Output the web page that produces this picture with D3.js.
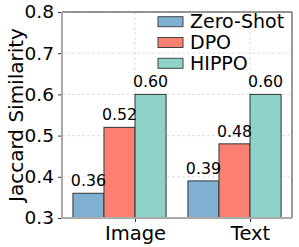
<!DOCTYPE html>
<html>
<head>
	<style type="text/css">
		body { margin: 0; background: #fff; }
		text { font-family: "DejaVu Sans", sans-serif; fill: #000; }
		.grid line { stroke: #d9d9d9; stroke-width: 0.8; stroke-dasharray: 3,2; }
	</style>
</head>
<body>
	<div id="chart"></div>
	<script src="https://d3js.org/d3.v7.min.js"></script>
	<script type="text/javascript">
		var categories = ["Image", "Text"];
		var series = ["Zero-Shot", "DPO", "HIPPO"];
		var colors = ["#80b1d3", "#fb8072", "#8dd3c7"];
		var values = {
			"Zero-Shot": [0.36, 0.39],
			"DPO": [0.52, 0.48],
			"HIPPO": [0.60, 0.60]
		};
		var yTicks = [0.3, 0.4, 0.5, 0.6, 0.7, 0.8];

		var width = 299, height = 247;
		var plotLeft = 62, plotRight = 292, plotTop = 12, plotBottom = 218;

		var svg = d3.select("#chart").append("svg")
			.attr("width", width)
			.attr("height", height);

		var x0 = d3.scalePoint().domain(categories).range([plotLeft, plotRight]).padding(0.5);
		var barW = x0.step() * 0.27;
		var x1 = d3.scaleBand().domain(series).range([-1.5 * barW, 1.5 * barW]);
		var y = d3.scaleLinear().domain([0.3, 0.8]).range([plotBottom, plotTop]);

		// tick positions sit at the right edge of the middle bar
		var tickX = function(c) { return x0(c) + barW / 2; };

		// grid
		var grid = svg.append("g").attr("class", "grid");
		grid.selectAll(".h").data(yTicks).enter().append("line")
			.attr("x1", plotLeft).attr("x2", plotRight)
			.attr("y1", function(d) { return y(d); })
			.attr("y2", function(d) { return y(d); });
		grid.selectAll(".v").data(categories).enter().append("line")
			.attr("x1", tickX).attr("x2", tickX)
			.attr("y1", plotTop).attr("y2", plotBottom);

		// bars
		var rows = [];
		series.forEach(function(s) {
			categories.forEach(function(c, i) {
				rows.push({ s: s, c: c, v: values[s][i] });
			});
		});

		svg.selectAll(".bar").data(rows).enter().append("rect")
			.attr("class", "bar")
			.attr("x", function(d) { return x0(d.c) + x1(d.s); })
			.attr("y", function(d) { return y(d.v); })
			.attr("width", x1.bandwidth())
			.attr("height", function(d) { return plotBottom - y(d.v); })
			.attr("fill", function(d) { return colors[series.indexOf(d.s)]; })
			.attr("stroke", "#333")
			.attr("stroke-width", 1);

		svg.selectAll(".val").data(rows).enter().append("text")
			.attr("x", function(d) { return x0(d.c) + x1(d.s) + x1.bandwidth() / 2; })
			.attr("y", function(d) { return y(d.v) - 7; })
			.attr("text-anchor", "middle")
			.attr("font-size", "15.8px")
			.text(function(d) { return d.v.toFixed(2); });

		// spines
		svg.append("line").attr("x1", plotLeft).attr("x2", plotRight).attr("y1", plotTop).attr("y2", plotTop)
			.attr("stroke", "#333").attr("stroke-width", 1);
		svg.append("line").attr("x1", plotRight).attr("x2", plotRight).attr("y1", plotTop).attr("y2", plotBottom)
			.attr("stroke", "#333").attr("stroke-width", 1);
		svg.append("line").attr("x1", plotLeft).attr("x2", plotLeft).attr("y1", plotTop).attr("y2", plotBottom + 1)
			.attr("stroke", "#aaa").attr("stroke-width", 2);
		svg.append("line").attr("x1", plotLeft).attr("x2", plotRight).attr("y1", plotBottom).attr("y2", plotBottom)
			.attr("stroke", "#aaa").attr("stroke-width", 2);

		// y axis
		var yAxis = svg.append("g")
			.attr("transform", "translate(" + (plotLeft - 1) + ",0)")
			.call(d3.axisLeft(y).tickValues(yTicks).tickSize(3).tickPadding(4).tickFormat(d3.format(".1f")));
		yAxis.select(".domain").remove();
		yAxis.selectAll("line").attr("stroke", "#333");
		yAxis.selectAll("text").attr("font-size", "18.5px").attr("font-family", "DejaVu Sans").attr("fill", "#000");

		// x axis
		var xAxis = svg.append("g")
			.attr("transform", "translate(" + (barW / 2) + "," + (plotBottom + 1) + ")")
			.call(d3.axisBottom(x0).tickSize(3).tickPadding(4));
		xAxis.select(".domain").remove();
		xAxis.selectAll("line").attr("stroke", "#333");
		xAxis.selectAll("text").attr("font-size", "19.5px").attr("font-family", "DejaVu Sans").attr("fill", "#000");

		// y label
		svg.append("text")
			.attr("transform", "translate(22.5," + ((plotTop + plotBottom) / 2) + ") rotate(-90)")
			.attr("text-anchor", "middle")
			.attr("font-size", "20px")
			.text("Jaccard Similarity");

		// legend
		var legend = svg.append("g").attr("transform", "translate(158,0)");
		var item = legend.selectAll(".item").data(series).enter().append("g")
			.attr("transform", function(d, i) { return "translate(0," + (21.7 + i * 20.8) + ")"; });
		item.append("rect")
			.attr("x", 0).attr("y", -5).attr("width", 25).attr("height", 10)
			.attr("fill", function(d, i) { return colors[i]; })
			.attr("stroke", "#444").attr("stroke-width", 1);
		item.append("text")
			.attr("x", 32).attr("y", 6.7)
			.attr("font-size", "19px")
			.text(function(d) { return d; });
	</script>
</body>
</html>
